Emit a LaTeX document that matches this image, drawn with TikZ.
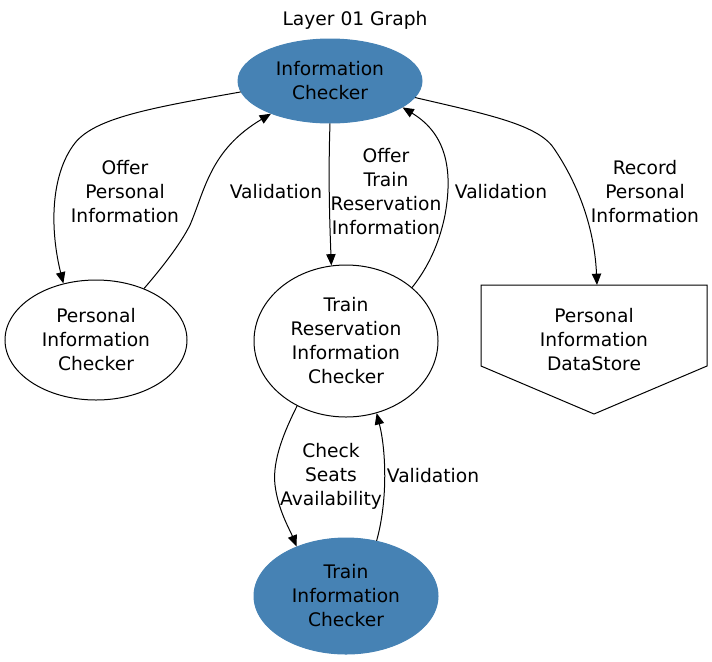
\documentclass[tikz,border=0pt]{standalone}
\usepackage{fontspec}
\setmainfont{DejaVu Sans}
\usetikzlibrary{shapes.geometric,arrows.meta}
\definecolor{steelblue}{RGB}{70,130,180}

\begin{document}
\begin{tikzpicture}[x=0.75pt,y=-0.75pt,line width=0.75pt,
		every node/.style={font=\fontsize{14}{18}\selectfont,align=center,inner sep=0pt},
		procnode/.style={ellipse,draw,minimum width=138pt,minimum height=90pt},
		activenode/.style={ellipse,draw=steelblue,fill=steelblue,minimum width=138pt,minimum height=63pt},
		flow/.style={-{Triangle[length=8.5pt,width=7pt]}},
		lbl/.style={fill=none}
		]
		\useasboundingbox (0,0) rectangle (712,661);
		\node (title) at (355,20) {Layer 01 Graph};
		% nodes
		\node (ic) [activenode] at (330,81) {Information\\Checker};
		\node (pic) [procnode,minimum width=136.5pt] at (96,340) {Personal\\Information\\Checker};
		\node (trc) [procnode,minimum height=114pt] at (346,341) {Train\\Reservation\\Information\\Checker};
		\node (tic) [activenode,minimum height=87pt] at (346,596) {Train\\Information\\Checker};
		\node (ds) at (594,340) {Personal\\Information\\DataStore};
		\coordinate (dsnw) at (481,285);
		\coordinate (dsne) at (707,285);
		\coordinate (dstop) at (597,285);
		\draw (dsnw) -- (dsne) -- (707,366) -- (594,414) -- (481,366) -- cycle;
		% connectors
		\draw[flow] (ic.187) .. controls (150,108) and (95,118) .. (75,143)
			.. controls (50,175) and (50,230) .. (pic.120);
		\draw[flow] (pic.47) .. controls (160,270) and (180,245) .. (190,225)
			.. controls (205,190) and (210,150) .. (ic.209);
		\draw[flow] (ic.south) .. controls (328,180) and (330,230) .. (trc.101);
		\draw[flow] (trc.39) .. controls (430,265) and (440,240) .. (445,215)
			.. controls (455,160) and (440,130) .. (ic.340);
		\draw[flow] (ic.349) .. controls (490,115) and (540,125) .. (555,150)
			.. controls (585,195) and (595,240) .. (dstop);
		\draw[flow] (trc.233) .. controls (285,430) and (272,460) .. (275,485)
			.. controls (278,510) and (290,530) .. (tic.135);
		\draw[flow] (tic.61) .. controls (388,500) and (386,450) .. (trc.293);
		% edge labels
		\node[lbl] (l1) at (125,192) {Offer\\Personal\\Information};
		\node[lbl] (l2) at (276,192) {Validation};
		\node[lbl] (l3) at (386,192) {Offer\\Train\\Reservation\\Information};
		\node[lbl] (l4) at (501,192) {Validation};
		\node[lbl] (l5) at (645,192) {Record\\Personal\\Information};
		\node[lbl] (l6) at (331,476) {Check\\Seats\\Availability};
		\node[lbl] (l7) at (433,476) {Validation};
\end{tikzpicture}
\end{document}
